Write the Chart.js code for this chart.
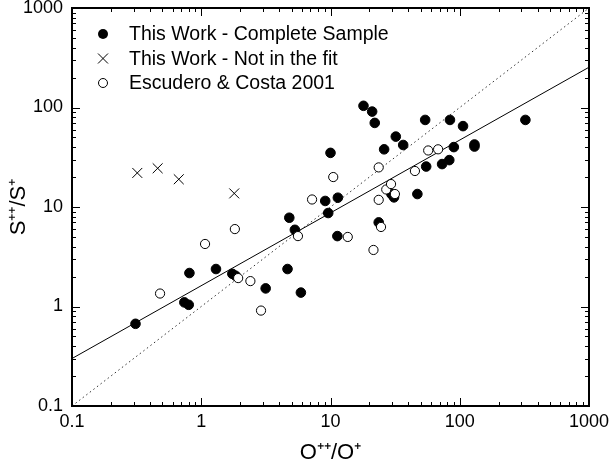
<!DOCTYPE html>
<html>
<head>
<meta charset="utf-8">
<script src="https://cdn.jsdelivr.net/npm/chart.js@4/dist/chart.umd.min.js"></script>
<style>
html, body { margin: 0; padding: 0; background: #fff; }
</style>
</head>
<body>
<canvas id="chart" width="610" height="468"></canvas>
<script>
// This Work - Complete Sample (filled circles)
const completeX = [0.31, 0.74, 0.80, 0.81, 1.30, 1.74, 1.84, 3.15, 4.65, 4.8, 5.3, 5.9,
  9.1, 10, 9.6, 11.4, 11.3, 18, 21, 22, 23.6, 26, 29.6, 31, 32, 36.5, 47, 54, 55,
  73, 83, 84, 90, 106, 130, 130, 322];
const completeY = [0.67, 1.1, 1.04, 2.17, 2.38, 2.13, 2.04, 1.52, 2.38, 7.8, 5.9, 1.38,
  11.5, 35, 8.7, 12.4, 5.1, 104, 91, 70, 7.0, 38, 13.5, 12.5, 51, 42, 13.5, 75, 25.5,
  27, 29.6, 75, 40, 65, 40.5, 42.5, 75];

// This Work - Not in the fit (crosses)
const notFitX = [0.32, 0.46, 0.67, 1.8];
const notFitY = [22, 24.5, 19, 13.7];

// Escudero & Costa 2001 (open circles)
const escX = [0.48, 1.07, 1.82, 1.93, 2.4, 2.9, 5.6, 7.2, 10.5, 13.6, 21.5, 23.6, 23.6,
  24.6, 27, 29.4, 31.5, 45, 57, 68];
const escY = [1.35, 4.25, 6.0, 1.93, 1.8, 0.91, 5.1, 11.9, 20, 5.0, 3.7, 25, 11.8,
  6.3, 15, 17, 13.5, 23, 37, 38];

// fitted relation and 1:1 line
const fitX = [0.1, 1000];
const fitY = [0.3, 254];
const unityX = [0.1, 1000];
const unityY = [0.1, 1000];

const xTickLabels = ['0.1', '1', '10', '100', '1000'];
const yTickLabels = ['0.1', '1', '10', '100', '1000'];

function pts(xs, ys) {
  return xs.map((v, i) => ({x: v, y: ys[i]}));
}

const FONT = "'Liberation Sans', Arial, sans-serif";

const legendItems = [
  {text: 'This Work - Complete Sample', kind: 'filled'},
  {text: 'This Work - Not in the fit', kind: 'cross'},
  {text: 'Escudero & Costa 2001', kind: 'open'}
];

function drawMarker(ctx, kind, cx, cy) {
  ctx.save();
  ctx.strokeStyle = '#000';
  ctx.lineWidth = 1;
  if (kind === 'cross') {
    const r = 5;
    ctx.beginPath();
    ctx.moveTo(cx - r, cy - r); ctx.lineTo(cx + r, cy + r);
    ctx.moveTo(cx - r, cy + r); ctx.lineTo(cx + r, cy - r);
    ctx.stroke();
  } else if (kind === 'filled') {
    ctx.beginPath();
    ctx.arc(cx, cy, 5, 0, Math.PI * 2);
    ctx.fillStyle = '#000';
    ctx.fill();
  } else {
    ctx.beginPath();
    ctx.arc(cx, cy, 4.5, 0, Math.PI * 2);
    ctx.fillStyle = '#fff';
    ctx.fill();
    ctx.stroke();
  }
  ctx.restore();
}

// box, inward ticks on all four sides, and the legend
const framePlugin = {
  id: 'frame',
  afterDraw(chart) {
    const {ctx, chartArea: a, scales: {x, y}} = chart;
    ctx.save();
    ctx.strokeStyle = '#000';
    ctx.lineWidth = 1;
    ctx.beginPath();
    for (let e = -1; e < 3; e++) {
      for (let k = 1; k < 10; k++) {
        const v = k * Math.pow(10, e);
        const len = k === 1 ? 8 : 4;
        const px = Math.round(x.getPixelForValue(v)) + 0.5;
        ctx.moveTo(px, a.bottom); ctx.lineTo(px, a.bottom - len);
        ctx.moveTo(px, a.top); ctx.lineTo(px, a.top + len);
        const py = Math.round(y.getPixelForValue(v)) + 0.5;
        ctx.moveTo(a.left, py); ctx.lineTo(a.left + len, py);
        ctx.moveTo(a.right, py); ctx.lineTo(a.right - len, py);
      }
    }
    ctx.stroke();
    ctx.lineWidth = 2;
    ctx.strokeRect(a.left, a.top, a.right - a.left, a.bottom - a.top);

    ctx.font = '19.5px ' + FONT;
    ctx.fillStyle = '#000';
    ctx.textBaseline = 'middle';
    legendItems.forEach((it, i) => {
      const cy = 34 + i * 24.5;
      drawMarker(ctx, it.kind, 103, cy);
      ctx.fillText(it.text, 129, cy + 1);
    });
    ctx.restore();
  }
};

function decadeLabel(labels) {
  return function (value) {
    const e = Math.log10(value);
    if (Math.abs(e - Math.round(e)) > 1e-6) return null;
    return labels[Math.round(e) + 1];
  };
}

new Chart(document.getElementById('chart'), {
  type: 'scatter',
  data: {
    datasets: [
      {
        label: 'Escudero & Costa 2001',
        data: pts(escX, escY),
        pointStyle: 'circle',
        pointRadius: 4.6,
        backgroundColor: '#fff',
        borderColor: '#000',
        borderWidth: 1,
        order: 1
      },
      {
        label: 'This Work - Not in the fit',
        data: pts(notFitX, notFitY),
        pointStyle: 'crossRot',
        pointRadius: 7,
        borderColor: '#000',
        borderWidth: 1,
        order: 2
      },
      {
        label: 'This Work - Complete Sample',
        data: pts(completeX, completeY),
        pointStyle: 'circle',
        pointRadius: 4.8,
        backgroundColor: '#000',
        borderColor: '#000',
        borderWidth: 1,
        order: 3
      },
      {
        label: 'fit',
        data: pts(fitX, fitY),
        showLine: true,
        pointRadius: 0,
        borderColor: '#000',
        borderWidth: 1,
        order: 4
      },
      {
        label: '1:1',
        data: pts(unityX, unityY),
        showLine: true,
        pointRadius: 0,
        borderColor: '#333',
        borderWidth: 1,
        borderDash: [1.5, 3],
        order: 5
      }
    ]
  },
  options: {
    responsive: false,
    animation: false,
    devicePixelRatio: 1,
    layout: {padding: {top: 8, right: 21, left: 0, bottom: 0}},
    plugins: {legend: {display: false}, tooltip: {enabled: false}},
    scales: {
      x: {
        type: 'logarithmic',
        min: 0.1,
        max: 1000,
        grid: {display: false, drawTicks: false},
        border: {display: false},
        ticks: {
          autoSkip: false,
          maxRotation: 0,
          padding: 5,
          color: '#000',
          font: {family: FONT, size: 18},
          callback: decadeLabel(xTickLabels)
        },
        title: {
          display: true,
          text: 'O⁺⁺/O⁺',
          color: '#000',
          font: {family: FONT, size: 22},
          padding: {top: 0, bottom: 2}
        },
        afterFit(s) { s.height = 62; s.paddingRight = 0; s.paddingLeft = 0; }
      },
      y: {
        type: 'logarithmic',
        min: 0.1,
        max: 1000,
        grid: {display: false, drawTicks: false},
        border: {display: false},
        ticks: {
          autoSkip: false,
          padding: 9,
          color: '#000',
          font: {family: FONT, size: 18},
          callback: decadeLabel(yTickLabels)
        },
        title: {
          display: true,
          text: 'S⁺⁺/S⁺',
          color: '#000',
          font: {family: FONT, size: 22},
          padding: {top: 6, bottom: 0}
        },
        afterFit(s) { s.width = 72; s.paddingTop = 0; s.paddingBottom = 0; }
      }
    }
  },
  plugins: [framePlugin]
});
</script>
</body>
</html>
